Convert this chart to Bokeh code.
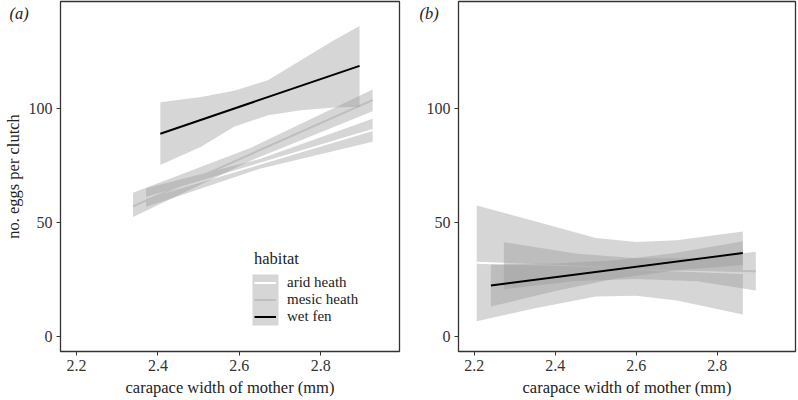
from bokeh.plotting import figure
from bokeh.layouts import row
from bokeh.models import Range1d, FixedTicker, Legend, LegendItem, BoxAnnotation, Title
from bokeh.embed import file_html
from bokeh.resources import INLINE

FONT = "Liberation Serif"

habitats = ["arid heath", "mesic heath", "wet fen"]
line_colors = ["#FFFFFF", "#BEBEBE", "#000000"]
x_ticks = [2.2, 2.4, 2.6, 2.8]
y_ticks = [0, 50, 100]
panel_tags = ["(a)", "(b)"]

# ---- panel (a) ----
a_arid_line_x = [2.371, 2.927]
a_arid_line_y = [60.7, 90.4]
a_arid_band_x = [2.371, 2.65, 2.927]
a_arid_band_lo = [56.7, 73.4, 85.3]
a_arid_band_hi = [64.9, 77.7, 95.3]

a_mesic_line_x = [2.339, 2.927]
a_mesic_line_y = [57.0, 103.5]
a_mesic_band_x = [2.339, 2.63, 2.927]
a_mesic_band_lo = [52.3, 77.2, 98.6]
a_mesic_band_hi = [62.9, 82.8, 108.2]

a_wet_line_x = [2.406, 2.895]
a_wet_line_y = [88.8, 118.5]
a_wet_band_x = [2.406, 2.506, 2.587, 2.670, 2.751, 2.832, 2.895]
a_wet_band_lo = [75.1, 83.1, 91.8, 96.9, 99.1, 100.3, 100.6]
a_wet_band_hi = [102.6, 104.9, 107.6, 112.2, 121.0, 129.7, 136.0]

# ---- panel (b) ----
b_arid_line_x = [2.206, 2.863]
b_arid_line_y = [32.3, 27.8]
b_arid_band_x = [2.206, 2.35, 2.5, 2.6, 2.7, 2.863]
b_arid_band_lo = [6.7, 12.3, 17.5, 17.8, 15.7, 9.6]
b_arid_band_hi = [57.3, 50.4, 43.1, 41.4, 42.1, 46.0]

b_mesic_line_x = [2.273, 2.895]
b_mesic_line_y = [31.0, 28.6]
b_mesic_band_x = [2.273, 2.45, 2.6, 2.75, 2.895]
b_mesic_band_lo = [20.7, 24.3, 25.2, 24.2, 20.1]
b_mesic_band_hi = [41.3, 36.3, 34.2, 34.2, 37.1]

b_wet_line_x = [2.241, 2.863]
b_wet_line_y = [22.3, 36.5]
b_wet_band_x = [2.241, 2.4, 2.55, 2.7, 2.863]
b_wet_band_lo = [13.1, 19.9, 25.4, 29.0, 31.3]
b_wet_band_hi = [31.5, 31.9, 33.4, 36.6, 41.7]

X_RANGE = (2.161, 2.993)
Y_RANGE = (-6.6, 146.7)
BAND_COLOR = "#999999"
BAND_ALPHA = 0.4
FRAME_H = 350


def make_panel(frame_w, border_left, tag, tag_offset, series, ylabel, legend):
    p = figure(frame_width=frame_w, frame_height=FRAME_H, output_backend="svg",
               toolbar_location=None,
               x_range=Range1d(*X_RANGE), y_range=Range1d(*Y_RANGE),
               min_border_left=border_left, min_border_right=2,
               min_border_top=1, min_border_bottom=46)
    p.grid.visible = False
    p.outline_line_color = "#333333"
    p.outline_line_width = 1.3
    p.background_fill_color = "white"
    p.border_fill_color = "white"

    xpu = frame_w / (X_RANGE[1] - X_RANGE[0])   # px per data unit (x)
    ypu = FRAME_H / (Y_RANGE[1] - Y_RANGE[0])   # px per data unit (y)

    p.xaxis.ticker = FixedTicker(ticks=x_ticks)
    p.yaxis.ticker = FixedTicker(ticks=y_ticks)
    for ax in (p.xaxis[0], p.yaxis[0]):
        ax.axis_line_color = None
        ax.major_tick_in = 0
        ax.major_tick_out = 4
        ax.major_tick_line_color = "#333333"
        ax.minor_tick_line_color = None
        ax.major_label_text_font = FONT
        ax.major_label_text_font_size = "16px"
        ax.major_label_text_color = "#333333"
        ax.axis_label_text_font = FONT
        ax.axis_label_text_font_size = "16.5px"
        ax.axis_label_text_font_style = "normal"
        ax.axis_label_text_color = "#222222"
    p.xaxis.major_label_standoff = 4
    p.yaxis.major_label_standoff = 4
    p.xaxis.axis_label = "carapace width of mother (mm)"
    p.xaxis.axis_label_standoff = 4
    if ylabel:
        p.yaxis.axis_label = ylabel
        p.yaxis.axis_label_standoff = 3

    # panel tag as a title whose panel has no height; its text hangs beside the frame top
    p.add_layout(Title(text=tag, align="left", offset=tag_offset, standoff=-42,
                       vertical_align="bottom", text_font=FONT, text_font_size="16.5px",
                       text_font_style="italic", text_color="#222222"), "above")

    items = []
    for name, color, (bx, lo, hi, lx, ly) in zip(habitats, line_colors, series):
        ar = p.varea(x=bx, y1=lo, y2=hi, fill_color=BAND_COLOR, fill_alpha=BAND_ALPHA)
        lr = p.line(x=lx, y=ly, line_color=color, line_width=2)
        items.append(LegendItem(label=name, renderers=[lr]))

    if legend:
        key_left, key_bottom, key_w, key_pitch = 192, 26, 26, 17
        box = BoxAnnotation(left=X_RANGE[0] + key_left / xpu,
                            right=X_RANGE[0] + (key_left + key_w) / xpu,
                            bottom=Y_RANGE[0] + key_bottom / ypu,
                            top=Y_RANGE[0] + (key_bottom + 3 * key_pitch) / ypu,
                            fill_color="#D6D6D6", fill_alpha=1.0, line_color=None,
                            level="annotation")
        p.add_layout(box)
        lg = Legend(items=items, location=(key_left + 2, key_bottom), title="habitat",
                    title_text_font=FONT, title_text_font_size="16.5px",
                    title_text_font_style="normal", title_standoff=5,
                    label_text_font=FONT, label_text_font_size="15px",
                    label_text_color="#222222", title_text_color="#222222",
                    glyph_width=key_w - 4, glyph_height=key_pitch, label_height=key_pitch,
                    label_standoff=11, spacing=0, padding=0, margin=0,
                    border_line_color=None, background_fill_alpha=0)
        p.add_layout(lg, "center")
    return p


series_a = [
    (a_arid_band_x, a_arid_band_lo, a_arid_band_hi, a_arid_line_x, a_arid_line_y),
    (a_mesic_band_x, a_mesic_band_lo, a_mesic_band_hi, a_mesic_line_x, a_mesic_line_y),
    (a_wet_band_x, a_wet_band_lo, a_wet_band_hi, a_wet_line_x, a_wet_line_y),
]
series_b = [
    (b_arid_band_x, b_arid_band_lo, b_arid_band_hi, b_arid_line_x, b_arid_line_y),
    (b_mesic_band_x, b_mesic_band_lo, b_mesic_band_hi, b_mesic_line_x, b_mesic_line_y),
    (b_wet_band_x, b_wet_band_lo, b_wet_band_hi, b_wet_line_x, b_wet_line_y),
]

pa = make_panel(339, 51, panel_tags[0], -51, series_a, "no. eggs per clutch", True)
pb = make_panel(337, 57, panel_tags[1], -39, series_b, None, False)

layout = row(pa, pb, spacing=0)
open("out.html", "w").write(file_html(layout, INLINE))
